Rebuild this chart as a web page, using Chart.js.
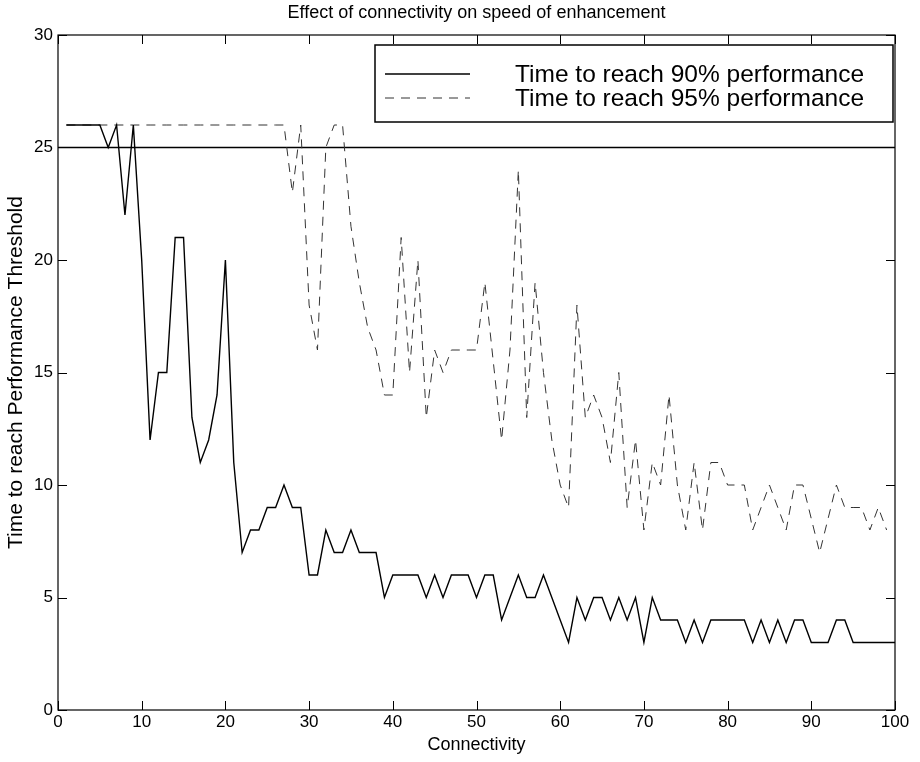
<!DOCTYPE html>
<html>
<head>
<meta charset="utf-8">
<title>Effect of connectivity on speed of enhancement</title>
<script src="https://cdn.jsdelivr.net/npm/chart.js@4.4.0/dist/chart.umd.min.js"></script>
<style>
  html, body { margin: 0; padding: 0; background: #fff; }
  #wrap { width: 920px; height: 762px; }
</style>
</head>
<body>
<div id="wrap"><canvas id="myChart" width="920" height="762"></canvas></div>
<script>
'use strict';

// connectivity values on the x axis
const connectivity = [
  1, 2, 3, 4, 5, 6, 7, 8, 9, 10,
  11, 12, 13, 14, 15, 16, 17, 18, 19, 20,
  21, 22, 23, 24, 25, 26, 27, 28, 29, 30,
  31, 32, 33, 34, 35, 36, 37, 38, 39, 40,
  41, 42, 43, 44, 45, 46, 47, 48, 49, 50,
  51, 52, 53, 54, 55, 56, 57, 58, 59, 60,
  61, 62, 63, 64, 65, 66, 67, 68, 69, 70,
  71, 72, 73, 74, 75, 76, 77, 78, 79, 80,
  81, 82, 83, 84, 85, 86, 87, 88, 89, 90,
  91, 92, 93, 94, 95, 96, 97, 98, 99, 100
];

// time to reach 90% performance (solid)
const time90 = [
  26, 26, 26, 26, 26, 25, 26, 22, 26, 20,
  12, 15, 15, 21, 21, 13, 11, 12, 14, 20,
  11, 7, 8, 8, 9, 9, 10, 9, 9, 6,
  6, 8, 7, 7, 8, 7, 7, 7, 5, 6,
  6, 6, 6, 5, 6, 5, 6, 6, 6, 5,
  6, 6, 4, 5, 6, 5, 5, 6, 5, 4,
  3, 5, 4, 5, 5, 4, 5, 4, 5, 3,
  5, 4, 4, 4, 3, 4, 3, 4, 4, 4,
  4, 4, 3, 4, 3, 4, 3, 4, 4, 3,
  3, 3, 4, 4, 3, 3, 3, 3, 3, 3
];

// time to reach 95% performance (dashed)
const time95 = [
  26, 26, 26, 26, 26, 26, 26, 26, 26, 26,
  26, 26, 26, 26, 26, 26, 26, 26, 26, 26,
  26, 26, 26, 26, 26, 26, 26, 23, 26, 18,
  16, 25, 26, 26, 21.5, 19, 17, 16, 14, 14,
  21, 15, 20, 13, 16, 15, 16, 16, 16, 16,
  19, 15.5, 12, 16, 24, 13, 19, 15, 12, 10,
  9, 18, 13, 14, 13, 11, 15, 9, 12, 8,
  11, 10, 14, 10, 8, 11, 8, 11, 11, 10,
  10, 10, 8, 9, 10, 9, 8, 10, 10, 8.5,
  7, 8.5, 10, 9, 9, 9, 8, 9, 8, null
];

const threshold = 25;
const thresholdSpan = [0, 100];

const xTicks = [0, 10, 20, 30, 40, 50, 60, 70, 80, 90, 100];
const yTicks = [0, 5, 10, 15, 20, 25, 30];

const seriesNames = ['Time to reach 90% performance', 'Time to reach 95% performance'];

const face = '"Liberation Sans", Arial, sans-serif';

function pts(ys) {
  return connectivity.map((c, i) => ({x: c, y: ys[i]}));
}

const frame = {
  id: 'frame',
  afterDatasetsDraw(chart) {
    const {ctx, chartArea: a, scales: {x, y}} = chart;
    ctx.save();
    ctx.strokeStyle = '#000';
    ctx.lineWidth = 1.2;
    ctx.strokeRect(a.left, a.top, a.right - a.left, a.bottom - a.top);
    ctx.beginPath();
    x.ticks.forEach(t => {
      const px = Math.round(x.getPixelForValue(t.value)) + 0.5;
      ctx.moveTo(px, a.bottom); ctx.lineTo(px, a.bottom - 9);
      ctx.moveTo(px, a.top); ctx.lineTo(px, a.top + 9);
    });
    y.ticks.forEach(t => {
      const py = Math.round(y.getPixelForValue(t.value)) + 0.5;
      ctx.moveTo(a.left, py); ctx.lineTo(a.left + 9, py);
      ctx.moveTo(a.right, py); ctx.lineTo(a.right - 9, py);
    });
    ctx.lineWidth = 1;
    ctx.stroke();
    ctx.restore();
  }
};

const legendBox = {
  id: 'legendBox',
  afterDraw(chart) {
    const {ctx, chartArea: a} = chart;
    const w = 518, h = 77;
    const left = a.right - 2 - w, top = a.top + 10;
    ctx.save();
    ctx.fillStyle = '#fff';
    ctx.fillRect(left, top, w, h);
    ctx.lineWidth = 1.5;
    ctx.strokeStyle = '#000';
    ctx.strokeRect(left, top, w, h);
    ctx.font = '24.5px ' + face;
    ctx.textBaseline = 'middle';
    ctx.textAlign = 'left';
    chart.data.datasets.slice(0, 2).forEach((ds, i) => {
      const yy = top + 29 + i * 24;
      ctx.setLineDash(ds.borderDash || []);
      ctx.lineWidth = ds.borderWidth;
      ctx.strokeStyle = ds.borderColor;
      ctx.beginPath();
      ctx.moveTo(left + 10, yy);
      ctx.lineTo(left + 95, yy);
      ctx.stroke();
      ctx.setLineDash([]);
      ctx.fillStyle = '#000';
      ctx.fillText(ds.label, left + 140, yy + 1);
    });
    ctx.restore();
  }
};

const ctx = document.getElementById('myChart').getContext('2d');
const chart = new Chart(ctx, {
  type: 'line',
  data: {
    datasets: [{
      label: seriesNames[0],
      data: pts(time90),
      borderColor: '#000',
      borderWidth: 1.4,
      pointRadius: 0,
      tension: 0
    },
    {
      label: seriesNames[1],
      data: pts(time95),
      borderColor: '#333',
      borderWidth: 1,
      borderDash: [9, 7],
      pointRadius: 0,
      tension: 0,
      spanGaps: false
    },
    {
      label: 'threshold',
      data: thresholdSpan.map(v => ({x: v, y: threshold})),
      borderColor: '#000',
      borderWidth: 1.3,
      pointRadius: 0
    }]
  },
  options: {
    responsive: false,
    animation: false,
    events: [],
    layout: { padding: { left: 0, right: 25, top: 0, bottom: 0 } },
    plugins: {
      legend: { display: false },
      tooltip: { enabled: false },
      title: {
        display: true,
        fullSize: false,
        text: 'Effect of connectivity on speed of enhancement',
        color: '#000',
        font: { family: face, size: 18, weight: 'normal', lineHeight: 1 },
        padding: { top: 4, bottom: 13 }
      }
    },
    scales: {
      x: {
        type: 'linear',
        min: 0,
        max: 100,
        grid: { display: false, drawTicks: false },
        border: { display: false },
        afterBuildTicks: s => { s.ticks = xTicks.map(v => ({value: v})); },
        afterFit: s => { s.height = 52; s.paddingLeft = 0; s.paddingRight = 0; },
        ticks: {
          color: '#000',
          padding: 4,
          maxRotation: 0,
          font: { family: face, size: 17, lineHeight: 1 }
        },
        title: {
          display: true,
          text: 'Connectivity',
          color: '#000',
          font: { family: face, size: 18, lineHeight: 1 },
          padding: { top: 0, bottom: 8 }
        }
      },
      y: {
        min: 0,
        max: 30,
        grid: { display: false, drawTicks: false },
        border: { display: false },
        afterBuildTicks: s => { s.ticks = yTicks.map(v => ({value: v})); },
        afterFit: s => { s.width = 58; s.paddingTop = 0; s.paddingBottom = 0; },
        ticks: {
          color: '#000',
          padding: 5,
          font: { family: face, size: 17, lineHeight: 1 }
        },
        title: {
          display: true,
          text: 'Time to reach Performance Threshold',
          color: '#000',
          font: { family: face, size: 21, lineHeight: 1 },
          padding: { top: 6, bottom: 0 }
        }
      }
    }
  },
  plugins: [frame, legendBox]
});
</script>
</body>
</html>
